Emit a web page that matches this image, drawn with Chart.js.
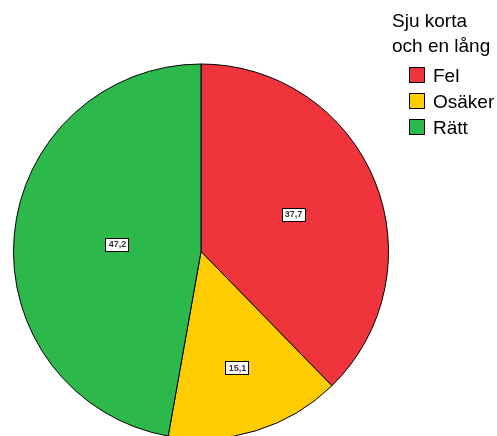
<!DOCTYPE html>
<html>
<head>
<meta charset="utf-8">
<script src="https://cdn.jsdelivr.net/npm/chart.js@4/dist/chart.umd.min.js"></script>
<style>
  html, body { margin: 0; padding: 0; background: #fff; overflow: hidden; }
  #wrap { width: 497px; height: 436px; overflow: hidden; }
</style>
</head>
<body>
<div id="wrap"><canvas id="c" width="497" height="440"></canvas></div>
<script>
const legendTitle = ["Sju korta", "och en lång"];
const categories = ["Fel", "Osäker", "Rätt"];
const values = [37.7, 15.1, 47.2];
const colors = ["#F0343C", "#FFCC00", "#2DB84B"];

function fmt(v) { return v.toFixed(1).replace('.', ','); }

const labelPlugin = {
  id: 'sliceLabels',
  afterDatasetsDraw(chart, args, opts) {
    const ctx = chart.ctx;
    const meta = chart.getDatasetMeta(0);
    ctx.save();
    ctx.font = 'bold 9px "Liberation Sans", Arial, sans-serif';
    ctx.textAlign = 'center';
    ctx.textBaseline = 'middle';
    meta.data.forEach((arc, i) => {
      const mid = (arc.startAngle + arc.endAngle) / 2;
      const r = arc.outerRadius * opts.radii[i];
      const x = arc.x + Math.cos(mid) * r;
      const y = arc.y + Math.sin(mid) * r;
      const txt = fmt(values[i]);
      const w = 23, h = 13;
      ctx.fillStyle = '#fff';
      ctx.fillRect(Math.round(x - w / 2) + 0.5, Math.round(y - h / 2) + 0.5, w, h);
      ctx.strokeStyle = '#000';
      ctx.lineWidth = 1;
      ctx.strokeRect(Math.round(x - w / 2) + 0.5, Math.round(y - h / 2) + 0.5, w, h);
      ctx.fillStyle = '#333';
      ctx.fillText(txt, Math.round(x) + 0.5, Math.round(y) + 1);
    });
    ctx.restore();
  }
};

const legendPlugin = {
  id: 'customLegend',
  afterDraw(chart, args, opts) {
    const ctx = chart.ctx;
    ctx.save();
    ctx.font = '19px "Liberation Sans", Arial, sans-serif';
    ctx.textAlign = 'left';
    ctx.textBaseline = 'alphabetic';
    ctx.fillStyle = '#000';
    legendTitle.forEach((t, i) => ctx.fillText(t, opts.x, opts.titleY + i * opts.lineH));
    categories.forEach((c, i) => {
      const base = opts.itemY + i * opts.itemH;
      ctx.fillStyle = colors[i];
      ctx.fillRect(opts.boxX + 0.5, base - 14.5, 15, 15);
      ctx.strokeStyle = '#000';
      ctx.lineWidth = 1;
      ctx.strokeRect(opts.boxX + 0.5, base - 14.5, 15, 15);
      ctx.fillStyle = '#000';
      ctx.fillText(c, opts.textX, base);
    });
    ctx.restore();
  }
};

new Chart(document.getElementById('c'), {
  type: 'pie',
  data: {
    labels: categories,
    datasets: [{
      data: values,
      backgroundColor: colors,
      borderColor: '#000',
      borderWidth: 1
    }]
  },
  options: {
    responsive: false,
    animation: false,
    layout: { padding: { top: 63, left: 13, right: 108, bottom: 0 } },
    plugins: {
      legend: { display: false },
      tooltip: { enabled: false },
      sliceLabels: { radii: [0.53, 0.65, 0.45] },
      customLegend: { x: 392, titleY: 27, lineH: 25, boxX: 409, textX: 433, itemY: 82, itemH: 26 }
    }
  },
  plugins: [labelPlugin, legendPlugin]
});
</script>
</body>
</html>
